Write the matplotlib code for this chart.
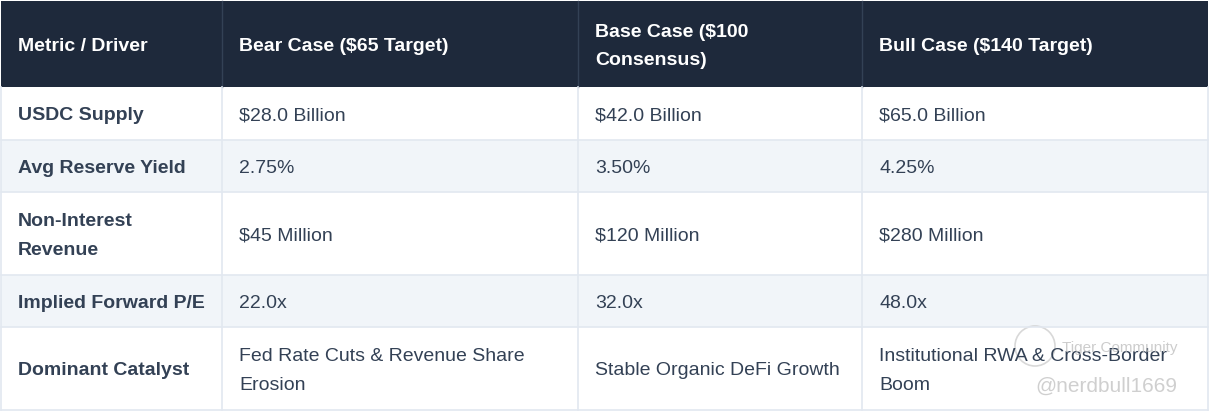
import matplotlib.pyplot as plt
from matplotlib.patches import Rectangle, Circle

plt.rcParams['font.family'] = ['Liberation Sans', 'DejaVu Sans']

headers = ['Metric / Driver', 'Bear Case ($65 Target)', 'Base Case ($100\nConsensus)',
           'Bull Case ($140 Target)']
metrics = ['USDC Supply', 'Avg Reserve Yield', 'Non-Interest\nRevenue',
           'Implied Forward P/E', 'Dominant Catalyst']
bear = ['$28.0 Billion', '2.75%', '$45 Million', '22.0x',
        'Fed Rate Cuts & Revenue Share\nErosion']
base = ['$42.0 Billion', '3.50%', '$120 Million', '32.0x', 'Stable Organic DeFi Growth']
bull = ['$65.0 Billion', '4.25%', '$280 Million', '48.0x',
        'Institutional RWA & Cross-Border\nBoom']

# layout in pixels
W, H = 1210, 414
col_edges = [1, 222, 578, 862, 1208]
row_edges = [2, 88, 141, 193, 276, 328, 411]
pad = 17
fs = 14

navy = '#1e293b'
text_col = '#334155'
grid_col = '#e2e8f0'
stripe = '#f1f5f9'

fig = plt.figure(figsize=(W / 100, H / 100), dpi=100)
ax = fig.add_axes([0, 0, 1, 1])
ax.set_xlim(0, W)
ax.set_ylim(H, 0)
ax.axis('off')

# header band
ax.add_patch(Rectangle((col_edges[0], row_edges[0]), col_edges[-1] - col_edges[0],
                       row_edges[1] - row_edges[0], facecolor=navy, edgecolor='none'))
for x in col_edges[1:-1]:
    ax.plot([x, x], [row_edges[0], row_edges[1]], color='#334155', lw=1)

columns = [metrics, bear, base, bull]
for i in range(len(metrics)):
    y0, y1 = row_edges[i + 1], row_edges[i + 2]
    fc = 'white' if i % 2 == 0 else stripe
    ax.add_patch(Rectangle((col_edges[0], y0), col_edges[-1] - col_edges[0], y1 - y0,
                           facecolor=fc, edgecolor='none'))

# grid lines in body
for y in row_edges[2:]:
    ax.plot([col_edges[0], col_edges[-1]], [y, y], color=grid_col, lw=1.2)
for x in col_edges:
    ax.plot([x, x], [row_edges[1], row_edges[-1]], color=grid_col, lw=1.2)

# header text
yc = (row_edges[0] + row_edges[1]) / 2 + 1.5
for j, h in enumerate(headers):
    ax.text(col_edges[j] + pad, yc, h, color='white', fontsize=fs, fontweight='bold',
            va='center', ha='left', linespacing=1.85)

# body text
for i in range(len(metrics)):
    yc = (row_edges[i + 1] + row_edges[i + 2]) / 2 + 1.5
    for j, col in enumerate(columns):
        ax.text(col_edges[j] + pad, yc, col[i], color=text_col, fontsize=fs,
                fontweight='bold' if j == 0 else 'normal', va='center', ha='left',
                linespacing=1.85)

# watermark
ax.add_patch(Circle((1035, 347), 20, facecolor='none', edgecolor='#c8c8c8', lw=1.2, alpha=0.7))
ax.text(1062, 348, 'Tiger Community', color='#c0c0c0', fontsize=11, va='center',
        ha='left', alpha=0.8)
ax.text(1035, 386, '@nerdbull1669', color='#c4c4c4', fontsize=15, va='center',
        ha='left', alpha=0.8)

fig.savefig('out.png', dpi=100)
